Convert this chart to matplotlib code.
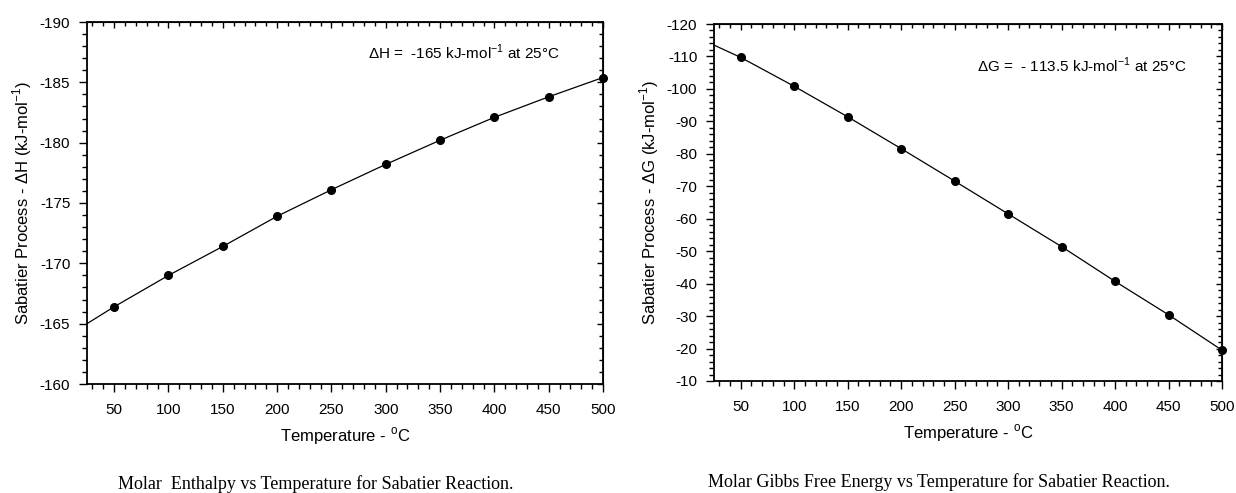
import numpy as np
import matplotlib.pyplot as plt
from matplotlib.ticker import MultipleLocator

plt.rcParams["font.family"] = ["Liberation Sans", "DejaVu Sans"]
plt.rcParams["axes.unicode_minus"] = False
plt.rcParams["mathtext.fontset"] = "custom"
plt.rcParams["mathtext.rm"] = "Liberation Sans"

# Data (first point at 25 C is the line start, no marker)
temps = [25, 50, 100, 150, 200, 250, 300, 350, 400, 450, 500]
dH = [-165.0, -166.4, -169.0, -171.4, -173.9, -176.1, -178.2, -180.2, -182.1, -183.8, -185.4]
dG = [-113.5, -109.7, -100.8, -91.4, -81.6, -71.6, -61.5, -51.4, -40.7, -30.4, -19.5]

x_ticks = [50, 100, 150, 200, 250, 300, 350, 400, 450, 500]

fig = plt.figure(figsize=(12.36, 4.93), dpi=100)


def style_axes(ax, ymajor, yminor):
    ax.set_xlim(25, 500)
    ax.xaxis.set_major_locator(MultipleLocator(50))
    ax.xaxis.set_minor_locator(MultipleLocator(10))
    ax.yaxis.set_major_locator(MultipleLocator(ymajor))
    ax.yaxis.set_minor_locator(MultipleLocator(yminor))
    ax.set_xticks(x_ticks)
    ax.tick_params(which="both", direction="out", labelsize=11, width=1)
    ax.tick_params(which="major", length=6)
    ax.tick_params(which="minor", length=3.5)
    ax.tick_params(axis="x", pad=8)
    ax.tick_params(axis="y", pad=6)
    for s in ax.spines.values():
        s.set_linewidth(1.3)
    # inward ticks on top and right, no labels
    top = ax.secondary_xaxis("top")
    top.xaxis.set_major_locator(MultipleLocator(50))
    top.xaxis.set_minor_locator(MultipleLocator(10))
    top.tick_params(which="both", direction="in", labeltop=False, width=1)
    top.tick_params(which="major", length=4)
    top.tick_params(which="minor", length=3)
    right = ax.secondary_yaxis("right")
    right.yaxis.set_major_locator(MultipleLocator(ymajor))
    right.yaxis.set_minor_locator(MultipleLocator(yminor))
    right.tick_params(which="both", direction="in", labelright=False, width=1)
    right.tick_params(which="major", length=4)
    right.tick_params(which="minor", length=3)


sup = "$^{\\mathrm{-1}}$"

# Enthalpy
ax1 = fig.add_axes([87 / 1236, 1 - 384 / 493, 516 / 1236, 362 / 493])
ax1.plot(temps, dH, color="black", linewidth=0.9, clip_on=False)
ax1.plot(temps[1:], dH[1:], "o", color="black", markersize=5.5, clip_on=False, zorder=5)
ax1.set_ylim(-160, -190)
style_axes(ax1, 5, 1)
ax1.set_xlabel("Temperature - $^{\\mathrm{o}}$C", fontsize=12, labelpad=6)
ax1.set_ylabel("Sabatier Process - \u0394H (kJ-mol" + sup + ")", fontsize=12, labelpad=4)
ax1.text(0.917, 0.915, "\u0394H =  -165 kJ-mol" + sup + " at 25\u00b0C",
         transform=ax1.transAxes, ha="right", va="center", fontsize=11)

# Gibbs free energy
ax2 = fig.add_axes([714 / 1236, 1 - 381 / 493, 508 / 1236, 357 / 493])
ax2.plot(temps, dG, color="black", linewidth=0.9, clip_on=False)
ax2.plot(temps[1:], dG[1:], "o", color="black", markersize=5.5, clip_on=False, zorder=5)
ax2.set_ylim(-10, -120)
style_axes(ax2, 10, 2)
ax2.set_xlabel("Temperature - $^{\\mathrm{o}}$C", fontsize=12, labelpad=6)
ax2.set_ylabel("Sabatier Process - \u0394G (kJ-mol" + sup + ")", fontsize=12, labelpad=4)
ax2.text(0.93, 0.885, "\u0394G =  - 113.5 kJ-mol" + sup + " at 25\u00b0C",
         transform=ax2.transAxes, ha="right", va="center", fontsize=11)

# Captions
fig.text(316 / 1236, 1 - 484 / 493, "Molar  Enthalpy vs Temperature for Sabatier Reaction.",
         ha="center", va="center", fontsize=13, family="Liberation Serif")
fig.text(939 / 1236, 1 - 482 / 493, "Molar Gibbs Free Energy vs Temperature for Sabatier Reaction.",
         ha="center", va="center", fontsize=13, family="Liberation Serif")

fig.savefig("out.png", dpi=100)
